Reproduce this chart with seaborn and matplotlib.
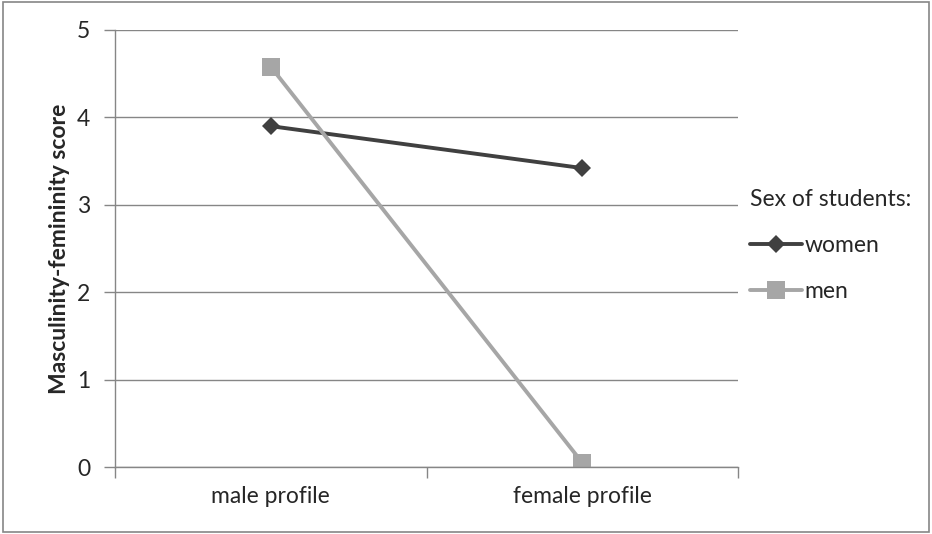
import matplotlib
matplotlib.use("Agg")
import matplotlib.pyplot as plt
import seaborn as sns
import pandas as pd
from matplotlib.patches import Rectangle
from matplotlib.lines import Line2D

categories = ["male profile", "female profile"]
women = [3.90, 3.42]
men = [4.58, 0.05]
series_names = ["women", "men"]

df = pd.DataFrame({
    "profile": categories * 2,
    "x": [0, 1, 0, 1],
    "score": women + men,
    "sex": [series_names[0]] * 2 + [series_names[1]] * 2,
})

sns.set_style("white")
plt.rcParams["font.family"] = ["Lato", "DejaVu Sans"]

fig = plt.figure(figsize=(9.32, 5.34), dpi=100)
ax = fig.add_axes([115 / 932, 67 / 534, 623 / 932, 437 / 534])

palette = {"women": "#404040", "men": "#A6A6A6"}
markers = {"women": "D", "men": "s"}
sns.lineplot(data=df, x="x", y="score", hue="sex", style="sex",
             palette=palette, markers=markers, dashes=False,
             linewidth=2.8, markersize=11, markeredgewidth=0,
             ax=ax, legend=False)
for line in ax.get_lines():
    if line.get_marker() == "D":
        line.set_markersize(9.5)
    elif line.get_marker() == "s":
        line.set_markersize(12.5)

ax.set_xlim(-0.5, 1.5)
ax.set_ylim(0, 5)
ax.set_yticks(range(0, 6))
ax.set_xticks([0, 1])
ax.set_xticklabels(categories)
ax.set_xticks([-0.5, 0.5, 1.5], minor=True)
ax.grid(axis="y", color="#868686", linewidth=1)
ax.set_axisbelow(True)
for s in ["top", "right"]:
    ax.spines[s].set_visible(False)
for s in ["left", "bottom"]:
    ax.spines[s].set_color("#868686")
    ax.spines[s].set_linewidth(1)
fs = 16.5
ax.tick_params(axis="y", which="major", length=8, color="#868686", width=1,
               labelsize=fs, pad=10, left=True)
ax.tick_params(axis="x", which="major", length=0, labelsize=fs, pad=14)
ax.tick_params(axis="x", which="minor", length=8, color="#868686", width=1, bottom=True)
ax.set_xlabel("")
ax.set_ylabel("Masculinity-femininity score", fontsize=16.5, fontweight="bold", labelpad=5)

handles = [Line2D([], [], color=palette[n], marker=markers[n], linewidth=2.8,
                  markersize=9.5 if n == "women" else 12.5, markeredgewidth=0)
           for n in series_names]
leg = fig.legend(handles, series_names, title="Sex of students:", loc="upper left",
                 bbox_to_anchor=(729 / 932, 1 - 168 / 534), frameon=False,
                 fontsize=fs, title_fontsize=fs, handlelength=2.3, handletextpad=0.1,
                 labelspacing=1.1, alignment="left")
leg._legend_box.sep = 18

fig.patches.append(Rectangle((0.003, 0.003), 0.994, 0.994, transform=fig.transFigure,
                             fill=False, edgecolor="#868686", linewidth=1.2))

fig.savefig("out.png", dpi=100)
